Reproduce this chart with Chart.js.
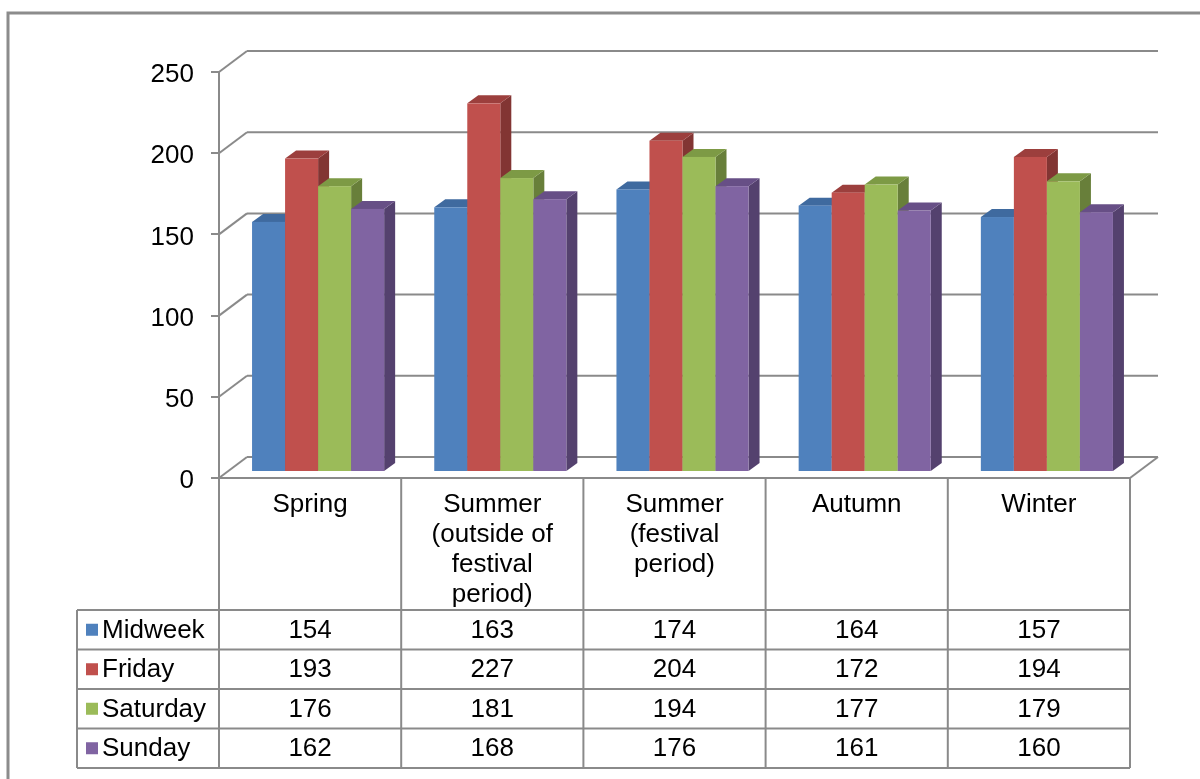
<!DOCTYPE html>
<html>
<head>
<meta charset="utf-8">
<script src="https://cdn.jsdelivr.net/npm/chart.js@4/dist/chart.umd.min.js"></script>
<style>
  html, body { margin: 0; padding: 0; background: #fff; }
  canvas { display: block; }
</style>
</head>
<body>
<canvas id="myChart" width="1200" height="779"></canvas>
<script>
// data
const categories = [
  'Spring',
  ['Summer', '(outside of', 'festival', 'period)'],
  ['Summer', '(festival', 'period)'],
  'Autumn',
  'Winter'
]
const seriesNames = ['Midweek', 'Friday', 'Saturday', 'Sunday']
const midweek = [154, 163, 174, 164, 157]
const friday = [193, 227, 204, 172, 194]
const saturday = [176, 181, 194, 177, 179]
const sunday = [162, 168, 176, 161, 160]
const yTicks = [0, 50, 100, 150, 200, 250]

const faceColors = ['#4F81BD', '#C0504D', '#9BBB59', '#8064A2']
const topColors = ['#3F6A9F', '#9C3F3D', '#7D9A45', '#674F86']
const sideColors = ['#345785', '#823533', '#687F3A', '#54416E']
const gridGray = '#8a8a8a'
const fontFamily = '"Liberation Sans", Arial, sans-serif'

// 3d offsets
const wallDx = 28, wallDy = -21
const barDx = 8, barDy = -6
const depthDx = 11, depthDy = -8

function poly(ctx, pts, fill) {
  ctx.beginPath()
  ctx.moveTo(pts[0][0], pts[0][1])
  for (let i = 1; i < pts.length; i++) ctx.lineTo(pts[i][0], pts[i][1])
  ctx.closePath()
  ctx.fillStyle = fill
  ctx.fill()
}

function line(ctx, x1, y1, x2, y2) {
  ctx.beginPath()
  ctx.moveTo(x1, y1)
  ctx.lineTo(x2, y2)
  ctx.stroke()
}

const frameAndBars = {
  id: 'frameAndBars',
  beforeDatasetsDraw(chart) {
    const ctx = chart.ctx
    const area = chart.chartArea
    const yScale = chart.scales.y
    ctx.save()
    // outer frame
    ctx.strokeStyle = '#8c8c8c'
    ctx.lineWidth = 3
    ctx.strokeRect(8, 13, 1300, 900)

    // back wall gridlines + floor
    ctx.strokeStyle = gridGray
    ctx.lineWidth = 2
    yTicks.forEach((v) => {
      const py = yScale.getPixelForValue(v)
      line(ctx, area.left, py, area.left + wallDx, py + wallDy)
      line(ctx, area.left + wallDx, py + wallDy, area.right + wallDx, py + wallDy)
    })
    const y0 = yScale.getPixelForValue(0)
    line(ctx, area.right, y0, area.right + wallDx, y0 + wallDy)

    // 3d columns
    chart.data.datasets.forEach((ds, i) => {
      const meta = chart.getDatasetMeta(i)
      meta.data.forEach((bar) => {
        const left = bar.x - bar.width / 2 + barDx
        const right = bar.x + bar.width / 2 + barDx
        const top = bar.y + barDy
        const bottom = bar.base + barDy
        poly(ctx, [[right, top], [right + depthDx, top + depthDy], [right + depthDx, bottom + depthDy], [right, bottom]], sideColors[i])
        poly(ctx, [[left, top], [left + depthDx, top + depthDy], [right + depthDx, top + depthDy], [right, top]], topColors[i])
        ctx.fillStyle = faceColors[i]
        ctx.fillRect(left, top, right - left, bottom - top)
      })
    })
    ctx.restore()
    return false
  },
  afterDraw(chart) {
    // data table under the plot
    const ctx = chart.ctx
    const area = chart.chartArea
    const xScale = chart.scales.x
    const y0 = chart.scales.y.getPixelForValue(0)
    const rowTop = 610
    const rowH = 39.5
    const legendLeft = 77
    const tableBottom = rowTop + rowH * seriesNames.length
    const allSeries = [midweek, friday, saturday, sunday]

    const bounds = [area.left]
    for (let i = 0; i < categories.length - 1; i++) {
      bounds.push((xScale.getPixelForValue(i) + xScale.getPixelForValue(i + 1)) / 2)
    }
    bounds.push(area.right)

    ctx.save()
    ctx.strokeStyle = gridGray
    ctx.lineWidth = 2
    line(ctx, area.left, y0, area.right, y0)
    bounds.forEach((bx) => line(ctx, bx, y0, bx, tableBottom))
    line(ctx, legendLeft, rowTop, legendLeft, tableBottom)
    for (let r = 0; r <= seriesNames.length; r++) {
      const ry = rowTop + r * rowH
      line(ctx, legendLeft, ry, area.right, ry)
    }

    ctx.font = '26px ' + fontFamily
    ctx.textBaseline = 'middle'
    seriesNames.forEach((name, r) => {
      const cy = rowTop + rowH * (r + 0.5)
      ctx.fillStyle = faceColors[r]
      ctx.fillRect(86, cy - 6, 12, 12)
      ctx.fillStyle = '#000'
      ctx.textAlign = 'left'
      ctx.fillText(name, 102, cy + 1)
      ctx.textAlign = 'center'
      allSeries[r].forEach((v, c) => {
        ctx.fillText(String(v), (bounds[c] + bounds[c + 1]) / 2, cy + 1)
      })
    })
    ctx.restore()
  }
}

const ctx = document.getElementById('myChart')
new Chart(ctx, {
  type: 'bar',
  data: {
    labels: categories,
    datasets: seriesNames.map((name, i) => ({
      label: name,
      data: [midweek, friday, saturday, sunday][i],
      backgroundColor: faceColors[i],
    })),
  },
  options: {
    responsive: false,
    animation: false,
    layout: { padding: { top: 72, right: 70, bottom: 0, left: 0 } },
    datasets: { bar: { categoryPercentage: 0.725, barPercentage: 1 } },
    plugins: { legend: { display: false }, tooltip: { enabled: false } },
    scales: {
      x: {
        grid: { display: false, drawTicks: false },
        border: { display: false },
        ticks: {
          color: '#000',
          font: { family: fontFamily, size: 26, lineHeight: 1.15 },
          padding: 12,
          maxRotation: 0,
          autoSkip: false,
        },
        afterFit: (s) => { s.height = 301 },
      },
      y: {
        min: 0,
        max: 250,
        grid: { drawOnChartArea: false, drawTicks: true, tickLength: 8, color: gridGray, lineWidth: 2 },
        border: { display: true, color: gridGray, width: 2 },
        ticks: {
          stepSize: 50,
          color: '#000',
          font: { family: fontFamily, size: 26 },
          padding: 17,
          labelOffset: 3,
        },
        afterFit: (s) => { s.width = 219 },
      },
    },
  },
  plugins: [frameAndBars],
})
</script>
</body>
</html>
